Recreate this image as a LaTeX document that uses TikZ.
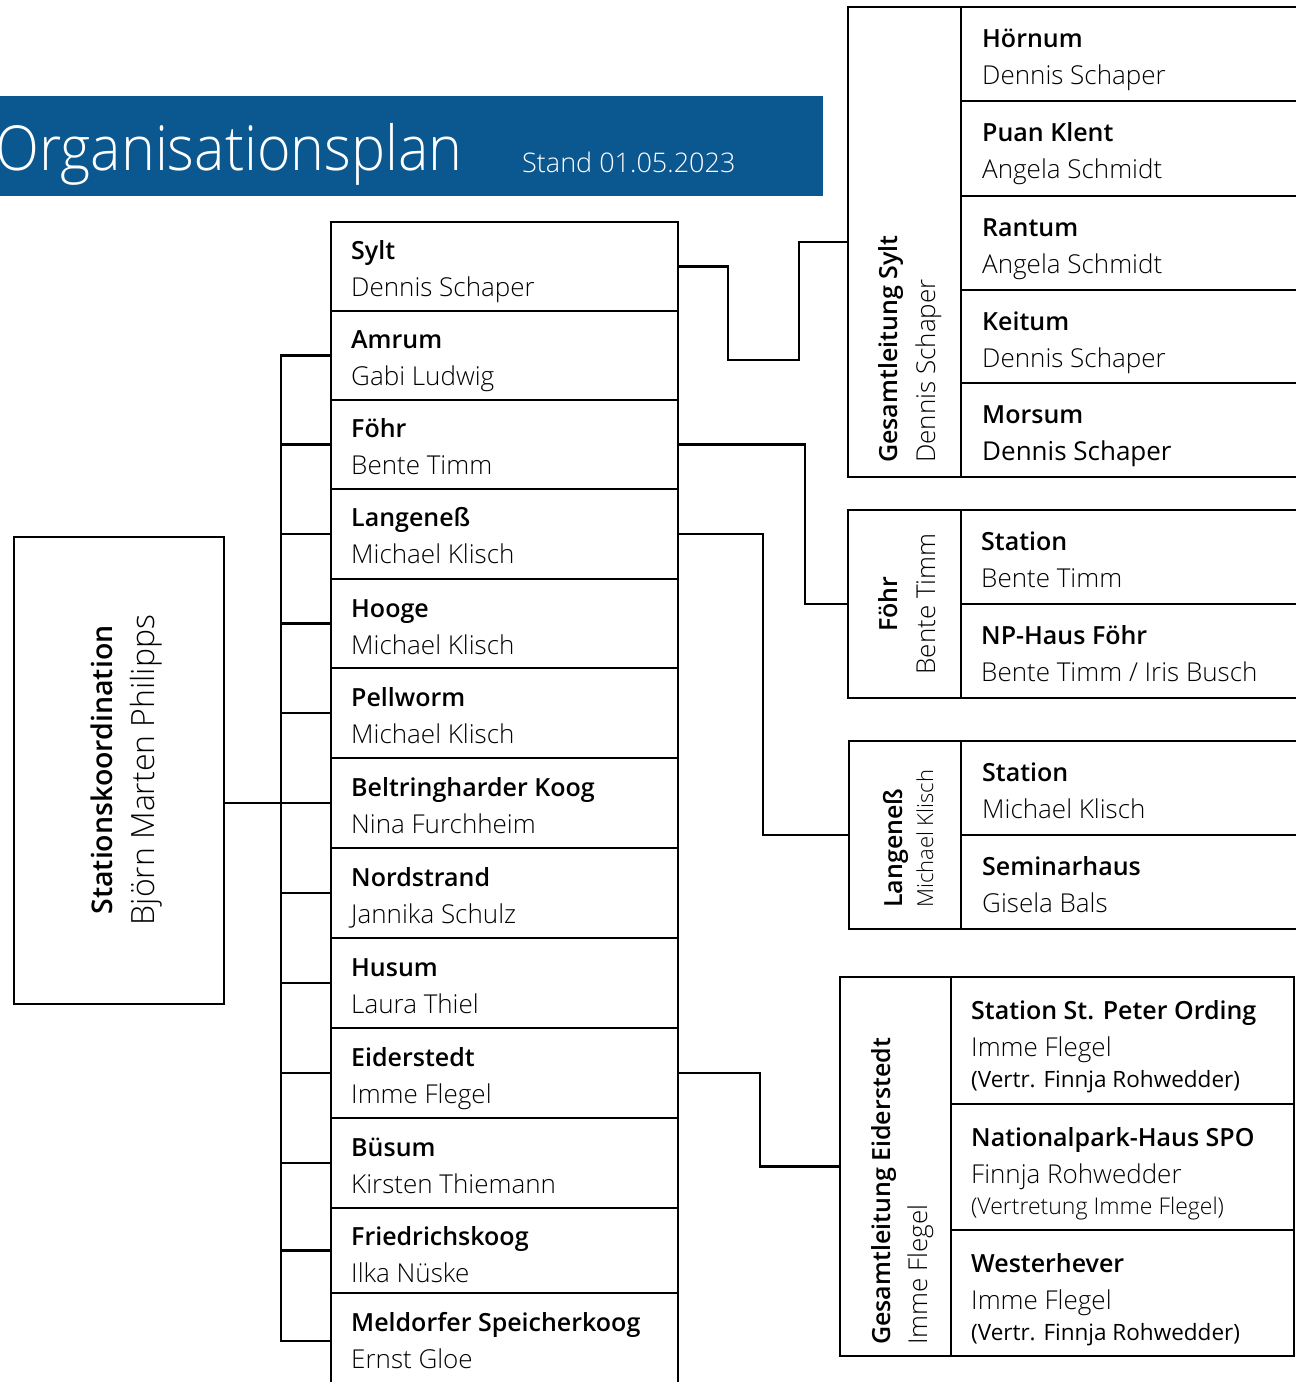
\documentclass[tikz,border=0pt]{standalone}
\usepackage{fontspec}
\IfFontExistsTF{Open Sans SemiBold}{\setmainfont{Open Sans}[BoldFont={Open Sans SemiBold}]}{%
  \IfFontExistsTF{Open Sans Semibold}{\setmainfont{Open Sans}[BoldFont={Open Sans Semibold}]}{\setmainfont{Open Sans}}}
\newfontfamily\lightf{Open Sans Light}
\usetikzlibrary{calc}
\definecolor{banner}{HTML}{0B578F}
\tikzset{
  ln/.style={line width=2.6pt, line cap=rect},
  cell/.style={draw, line width=2.6pt, anchor=north west, inner sep=0pt, outer sep=0pt},
  ttl/.style={anchor=base west, inner sep=0pt, font=\bfseries\fontsize{25}{30}\selectfont},
  nm/.style={anchor=base west, inner sep=0pt, font=\lightf\fontsize{26}{30}\selectfont},
  sm/.style={anchor=base west, inner sep=0pt, font=\fontsize{22.5}{26}\selectfont},
}
\newcommand\boxrow[9]{%
  \node[cell, minimum width=#4pt, minimum height=#5pt] (#1) at (#2,#3) {};
  \node[ttl] (#1-t) at ($(#1.north west)+(#8,#9)$) {#6};
  \node[nm] (#1-n) at ($(#1.north west)+(#8,#9+37)$) {#7};}
\begin{document}
\begin{tikzpicture}[x=1pt,y=-1pt]
\useasboundingbox (0,0) rectangle (1296,1382);
% header
\fill[banner] (0,96) rectangle (823,196);
\node[anchor=base west, inner sep=0pt, text=white, font=\lightf\fontsize{62}{70}\selectfont] (title) at (-5,170) {\scalebox{0.925}[1]{Organisationsplan}};
\node[anchor=base west, inner sep=0pt, text=white, font=\lightf\fontsize{27}{30}\selectfont] (stand) at (522,172) {Stand 01.05.2023};
% Stationskoordination
\node[cell, minimum width=210pt, minimum height=467pt] (stk) at (14,537) {};
\node[rotate=90, anchor=base, inner sep=0pt, font=\bfseries\fontsize{28.5}{34}\selectfont] (stk-t) at (112,770) {Stationskoordination};
\node[rotate=90, anchor=base, inner sep=0pt, font=\lightf\fontsize{32}{36}\selectfont] (stk-n) at (154,770) {Björn Marten Philipps};
% middle column
\boxrow{sylt}{331}{222}{347}{89}{Sylt}{Dennis Schaper}{20}{37}
\boxrow{amrum}{331}{311}{347}{89}{Amrum}{Gabi Ludwig}{20}{37}
\boxrow{foehr}{331}{400}{347}{89}{Föhr}{Bente Timm}{20}{37}
\boxrow{lang}{331}{489}{347}{90}{Langeneß}{Michael Klisch}{20}{37}
\boxrow{hooge}{331}{579}{347}{89}{Hooge}{Michael Klisch}{20}{38}
\boxrow{pell}{331}{668}{347}{90}{Pellworm}{Michael Klisch}{20}{38}
\boxrow{belt}{331}{758}{347}{90}{Beltringharder Koog}{Nina Furchheim}{20}{38}
\boxrow{nord}{331}{848}{347}{90}{Nordstrand}{Jannika Schulz}{20}{38}
\boxrow{husum}{331}{938}{347}{90}{Husum}{Laura Thiel}{20}{38}
\boxrow{eider}{331}{1028}{347}{90}{Eiderstedt}{Imme Flegel}{20}{38}
\boxrow{buesum}{331}{1118}{347}{90}{Büsum}{Kirsten Thiemann}{20}{38}
\boxrow{fried}{331}{1208}{347}{85}{Friedrichskoog}{Ilka Nüske}{20}{37}
\boxrow{meld}{331}{1293}{347}{96}{Meldorfer Speicherkoog}{Ernst Gloe}{20}{38}
% left bus
\coordinate (busin) at (281,803);
\draw[ln] (281,0 |- amrum.west) -- (281,0 |- meld.west);
\draw[ln] (stk.east |- busin) -- (busin);
\foreach \n in {amrum,foehr,lang,hooge,pell,belt,nord,husum,eider,buesum,fried,meld}
  \draw[ln] (281,0 |- \n.west) -- (\n.west);
% Gesamtleitung Sylt
\node[cell, minimum width=113pt, minimum height=470pt] (gsylt) at (848,7) {};
\node[ttl, rotate=90] (gsylt-t) at (897,463) {Gesamtleitung Sylt};
\node[nm, rotate=90] (gsylt-n) at (935,463) {Dennis Schaper};
\boxrow{hoern}{961}{7}{349}{94}{Hörnum}{Dennis Schaper}{21}{40}
\boxrow{puan}{961}{101}{349}{95}{Puan Klent}{Angela Schmidt}{21}{40}
\boxrow{rantum}{961}{196}{349}{94}{Rantum}{Angela Schmidt}{21}{40}
\boxrow{keitum}{961}{290}{349}{93}{Keitum}{Dennis Schaper}{21}{40}
\boxrow{morsum}{961}{383}{349}{94}{Morsum}{\normalfont Dennis Schaper}{21}{40}
% Föhr group
\node[cell, minimum width=113pt, minimum height=188pt] (gfoehr) at (848,510) {};
\node[ttl, rotate=90, anchor=base] (gfoehr-t) at (897,604) {Föhr};
\node[nm, rotate=90, anchor=base] (gfoehr-n) at (935,604) {Bente Timm};
\boxrow{fstat}{961}{510}{349}{94}{Station}{Bente Timm}{20}{40}
\boxrow{fnp}{961}{604}{349}{94}{NP-Haus Föhr}{Bente Timm / Iris Busch}{20}{40}
% Langeneß group
\node[cell, minimum width=112pt, minimum height=188pt] (glang) at (849,741) {};
\node[ttl, rotate=90] (glang-t) at (902,908) {Langeneß};
\node[nm, rotate=90, font=\lightf\fontsize{22}{26}\selectfont] (glang-n) at (933,908) {Michael Klisch};
\boxrow{lstat}{961}{741}{349}{94}{Station}{Michael Klisch}{21}{40}
\boxrow{lsem}{961}{835}{349}{94}{Seminarhaus}{Gisela Bals}{21}{40}
% Eiderstedt group
\node[cell, minimum width=111pt, minimum height=379pt] (geider) at (840,977) {};
\node[ttl, rotate=90] (geider-t) at (890,1345) {Gesamtleitung Eiderstedt};
\node[nm, rotate=90] (geider-n) at (927,1345) {Imme Flegel};
\boxrow{spo}{951}{977}{343}{127}{Station St. Peter Ording}{Imme Flegel}{20}{42}
\node[sm] (spo-v) at ($(spo.north west)+(20,110)$) {(Vertr. Finnja Rohwedder)};
\boxrow{nph}{951}{1104}{343}{126}{Nationalpark-Haus SPO}{Finnja Rohwedder}{20}{42}
\node[sm, font=\lightf\fontsize{23}{26}\selectfont] (nph-v) at ($(nph.north west)+(20,110)$) {(Vertretung Imme Flegel)};
\boxrow{west}{951}{1230}{343}{126}{Westerhever}{Imme Flegel}{20}{42}
\node[sm] (west-v) at ($(west.north west)+(20,110)$) {(Vertr. Finnja Rohwedder)};
% connectors to the right
\draw[ln] (sylt.east) -- (728,0 |- sylt.east) -- (728,360) -- (799,360) |- (gsylt.west);
\draw[ln] (foehr.east) -- (805,0 |- foehr.east) |- (gfoehr.west);
\draw[ln] (lang.east) -- (763,0 |- lang.east) |- (glang.west);
\draw[ln] (eider.east) -- (760,0 |- eider.east) |- (geider.west);
\end{tikzpicture}
\end{document}
